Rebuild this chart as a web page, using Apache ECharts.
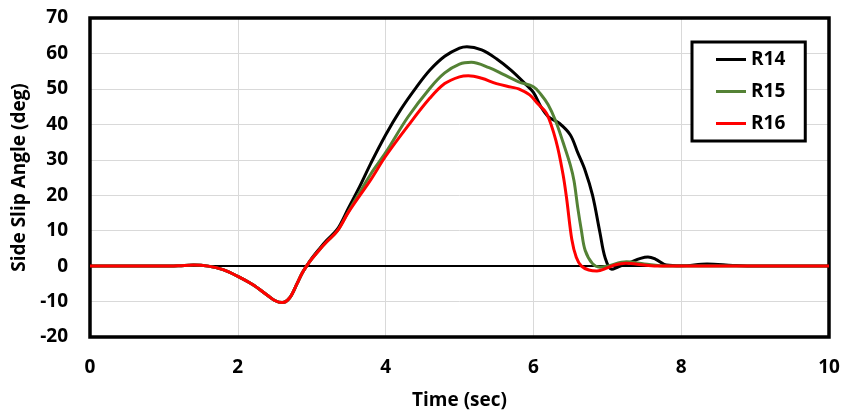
<!DOCTYPE html>
<html>
<head>
<meta charset="utf-8">
<script src="https://cdn.jsdelivr.net/npm/echarts@6/dist/echarts.min.js"></script>
<style>
  html, body { margin: 0; padding: 0; background: #fff; }
  #chart { width: 851px; height: 415px; }
</style>
</head>
<body>
<div id="chart"></div>
<script>
// time (sec) / side slip angle (deg)
const r14T = [0, 0.5, 1.0, 1.2, 1.4, 1.6, 1.8, 2.0, 2.2, 2.4, 2.5, 2.6, 2.7, 2.8, 2.87, 2.93, 3.0, 3.1, 3.2, 3.35, 3.5, 3.65, 3.8, 4.0, 4.2, 4.4, 4.6, 4.8, 5.0, 5.1, 5.3, 5.5, 5.7, 5.9, 6.0, 6.1, 6.2, 6.35, 6.5, 6.6, 6.7, 6.8, 6.9, 6.97, 7.06, 7.15, 7.3, 7.45, 7.55, 7.65, 7.8, 8.0, 8.35, 8.7, 9.0, 10];
const r14V = [0, 0, 0, 0.1, 0.3, 0, -1, -2.9, -5.2, -8.2, -9.7, -10.3, -9, -5, -2, 0, 2.2, 4.8, 7.2, 10.5, 16.5, 22.5, 29, 37, 44, 50, 55.3, 59.2, 61.5, 61.9, 61, 58.5, 55.2, 51.2, 49, 45, 42.2, 40.3, 37, 32, 27, 20, 9.5, 2.4, -0.9, -0.2, 1, 2.2, 2.6, 2, 0.3, 0.1, 0.6, 0.2, 0, 0];

const r15T = [0, 0.5, 1.0, 1.2, 1.4, 1.6, 1.8, 2.0, 2.2, 2.4, 2.5, 2.6, 2.7, 2.8, 2.87, 2.93, 3.0, 3.1, 3.2, 3.35, 3.5, 3.8, 4.0, 4.3, 4.6, 4.8, 5.0, 5.16, 5.4, 5.6, 5.8, 6.0, 6.1, 6.2, 6.3, 6.4, 6.5, 6.55, 6.6, 6.65, 6.7, 6.8, 6.9, 7.0, 7.26, 7.5, 7.8, 10];
const r15V = [0, 0, 0, 0.1, 0.3, 0, -1, -2.9, -5.2, -8.2, -9.7, -10.3, -9, -5, -2, 0, 2, 4.5, 6.8, 10, 15.5, 26, 32, 42, 50.2, 54.5, 57, 57.5, 56, 54, 52, 50.6, 48.5, 45.5, 41, 35, 28.5, 24, 16.5, 10, 4.5, 0.7, -0.3, 0, 1.2, 0.6, 0, 0];

const r16T = [0, 0.5, 1.0, 1.2, 1.4, 1.6, 1.8, 2.0, 2.2, 2.4, 2.5, 2.6, 2.7, 2.8, 2.87, 2.93, 3.0, 3.1, 3.2, 3.35, 3.5, 3.8, 4.0, 4.3, 4.6, 4.8, 5.0, 5.12, 5.3, 5.5, 5.7, 5.8, 5.95, 6.05, 6.18, 6.31, 6.4, 6.45, 6.52, 6.58, 6.65, 6.75, 6.86, 7.0, 7.1, 7.25, 7.5, 7.7, 10];
const r16V = [0, 0, 0, 0.1, 0.3, 0, -1, -2.9, -5.2, -8.2, -9.7, -10.3, -9, -5, -2, 0, 2, 4.5, 6.8, 10, 15.3, 24.4, 31, 39.5, 47.4, 51.5, 53.4, 53.7, 53, 51.5, 50.5, 50, 48.3, 46, 43, 35, 26, 19, 7.5, 2.5, 0, -1.1, -1.4, -0.5, 0.3, 0.8, 0.3, 0, 0];

const seriesNames = ['R14', 'R15', 'R16'];
const seriesColors = ['#000000', '#548235', '#ff0000'];
const xTicks = [0, 10, 2];      // min, max, interval
const yTicks = [-20, 70, 10];

function pairs(ts, vs) {
  return ts.map((t, i) => [t, vs[i]]);
}

const FONT = '"Open Sans", "Liberation Sans", sans-serif';

let chart = echarts.init(document.getElementById('chart'), null, { renderer: 'canvas' });

const allData = [pairs(r14T, r14V), pairs(r15T, r15V), pairs(r16T, r16V)];

let option = {
  animation: false,
  backgroundColor: '#fff',
  textStyle: { fontFamily: FONT },
  grid: {
    left: 90, right: 22, top: 18, bottom: 77,
    show: true,
    borderColor: '#000',
    borderWidth: 3.5,
    backgroundColor: 'transparent',
    z: 5
  },
  legend: {
    orient: 'vertical',
    left: 692, top: 42,
    padding: [8, 20, 8, 24],
    itemGap: 13,
    itemWidth: 30,
    itemHeight: 3,
    icon: 'rect',
    borderColor: '#000',
    borderWidth: 3,
    backgroundColor: '#fff',
    textStyle: { fontFamily: FONT, fontWeight: 'bold', fontSize: 19, color: '#000' },
    data: seriesNames
  },
  xAxis: {
    type: 'value',
    min: xTicks[0], max: xTicks[1], interval: xTicks[2],
    name: 'Time (sec)',
    nameLocation: 'middle',
    nameGap: 54,
    nameTextStyle: { fontFamily: FONT, fontWeight: 'bold', fontSize: 19, color: '#000' },
    axisLine: { show: false },
    axisTick: { show: false },
    axisLabel: { margin: 21, fontFamily: FONT, fontWeight: 'bold', fontSize: 19, color: '#000' },
    splitLine: { show: true, lineStyle: { color: '#d9d9d9', width: 1 } }
  },
  yAxis: {
    type: 'value',
    min: yTicks[0], max: yTicks[1], interval: yTicks[2],
    name: 'Side Slip Angle (deg)',
    nameLocation: 'middle',
    nameGap: 58,
    nameTextStyle: { fontFamily: FONT, fontWeight: 'bold', fontSize: 19, color: '#000' },
    axisLine: { show: false },
    axisTick: { show: false },
    axisLabel: { margin: 22, fontFamily: FONT, fontWeight: 'bold', fontSize: 19, color: '#000' },
    splitLine: { show: true, lineStyle: { color: '#d9d9d9', width: 1 } }
  },
  series: seriesNames.map((name, i) => ({
    name: name,
    type: 'line',
    data: allData[i],
    smooth: 0.35,
    symbol: 'none',
    color: seriesColors[i],
    lineStyle: { color: seriesColors[i], width: 3 },
    z: 3 + i,
    // zero line drawn once, under the curves
    markLine: i === 0 ? {
      silent: true,
      symbol: 'none',
      label: { show: false },
      lineStyle: { color: '#000', width: 2, type: 'solid' },
      data: [{ yAxis: 0 }],
      z: 1
    } : undefined
  }))
};

chart.setOption(option);
</script>
</body>
</html>
